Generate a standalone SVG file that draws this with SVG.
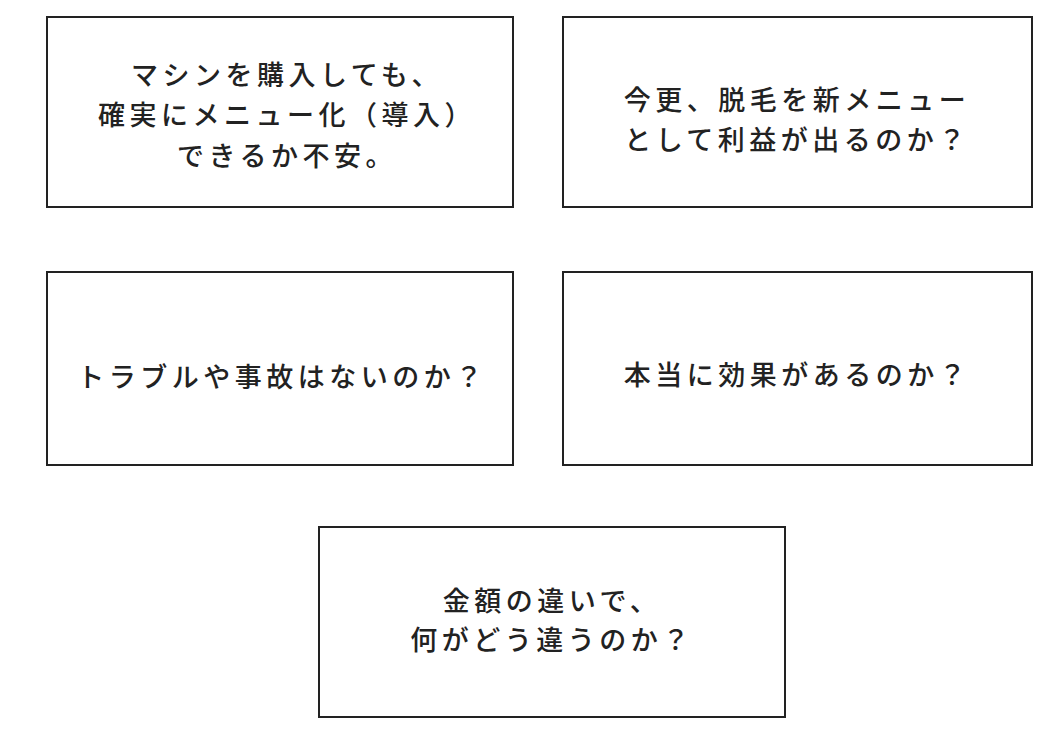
<svg xmlns="http://www.w3.org/2000/svg" width="1064" height="752" viewBox="0 0 1064 752">
<style>
.b{fill:#fff;stroke:#222;stroke-width:2}
.t{font-family:"Noto Sans CJK JP","Noto Sans",sans-serif;font-size:27px;font-weight:500;fill:#222;text-anchor:middle;letter-spacing:4.5px;dominant-baseline:central}
</style>
<rect width="1064" height="752" fill="#fff"/>
<g id="n1"><rect class="b" x="47" y="17" width="466" height="190"/>
<text class="t" x="287" y="73">マシンを購入しても、</text>
<text class="t" x="287" y="113">確実にメニュー化（導入）</text>
<text class="t" x="287" y="154">できるか不安。</text></g>
<g id="n2"><rect class="b" x="563" y="17" width="469" height="190"/>
<text class="t" x="797" y="98">今更、脱毛を新メニュー</text>
<text class="t" x="797" y="138">として利益が出るのか？</text></g>
<g id="n3"><rect class="b" x="47" y="272" width="466" height="193"/>
<text class="t" x="282" y="375">トラブルや事故はないのか？</text></g>
<g id="n4"><rect class="b" x="563" y="272" width="469" height="193"/>
<text class="t" x="797" y="373">本当に効果があるのか？</text></g>
<g id="n5"><rect class="b" x="319" y="527" width="466" height="190"/>
<text class="t" x="552" y="599">金額の違いで、</text>
<text class="t" x="552" y="638">何がどう違うのか？</text></g>
<g id="connectors"/>
</svg>
